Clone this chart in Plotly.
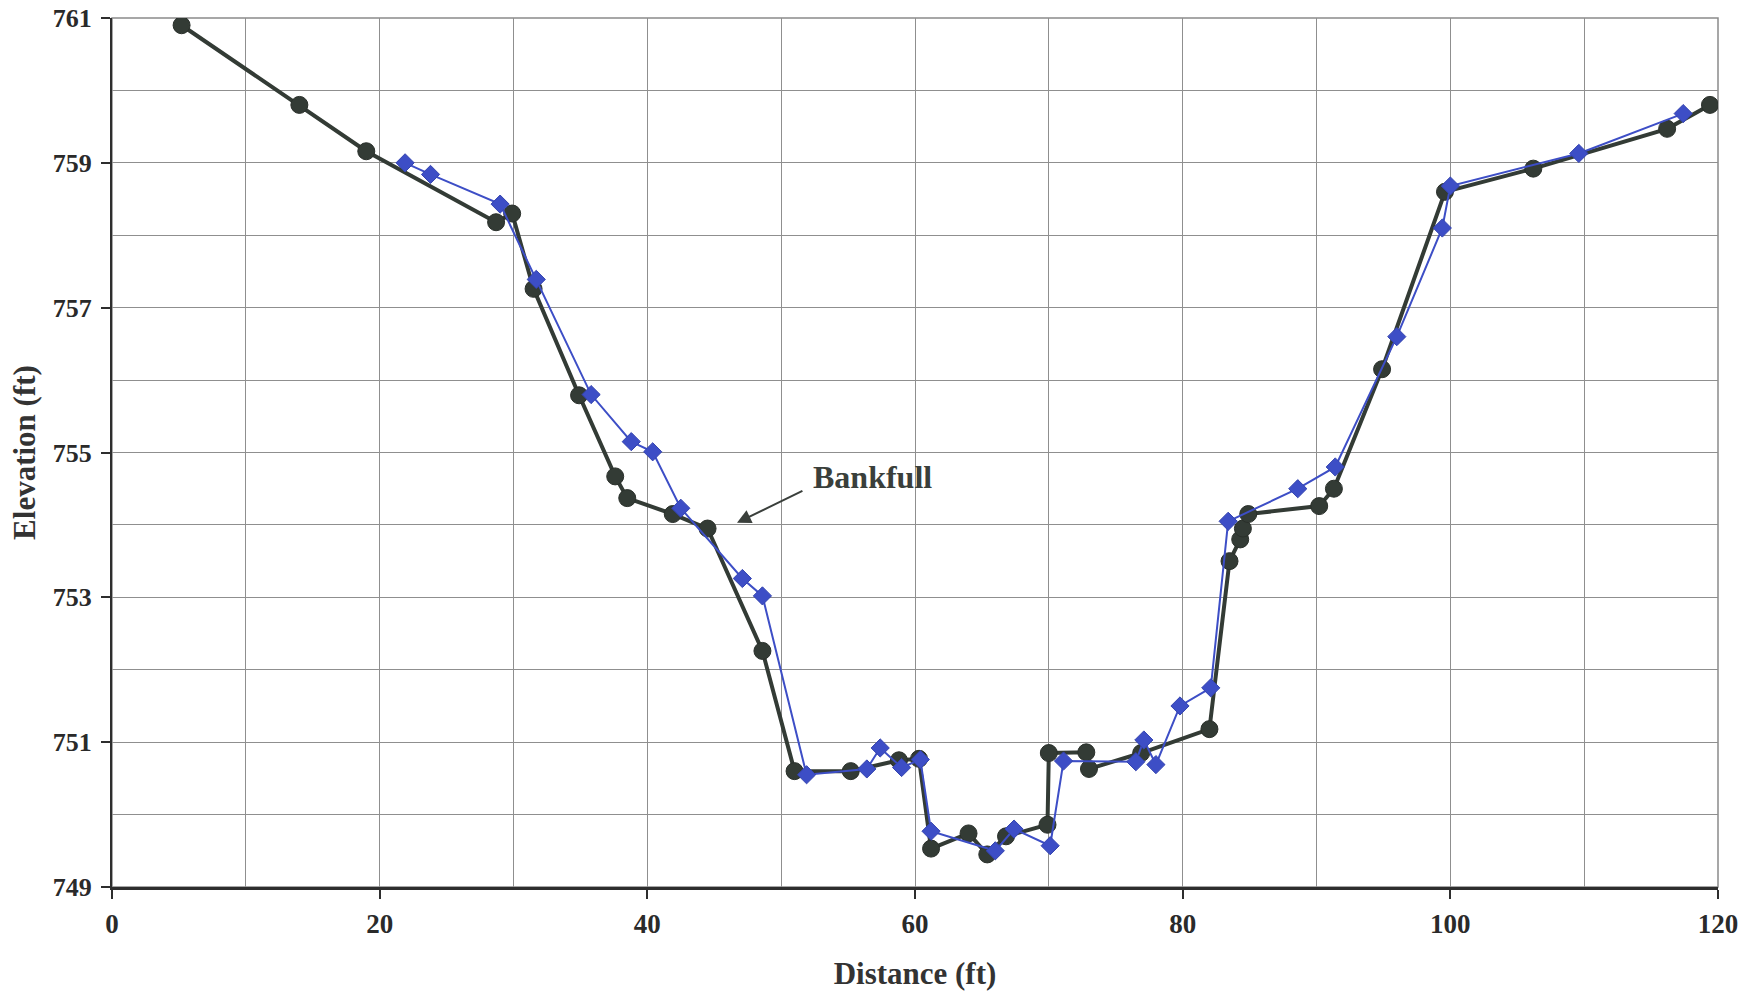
import plotly.graph_objects as go

# Surveyed cross-section profile (thick dark series)
profile_a_dist = [5.2, 14.0, 19.0, 28.7, 29.9, 31.5, 34.9, 37.6, 38.5, 41.9, 44.5,
                  48.6, 51.0, 55.2, 58.8, 60.3, 61.2, 64.0, 65.4, 66.8, 69.9, 70.0,
                  72.8, 73.0, 76.9, 82.0, 83.5, 84.3, 84.5, 84.9, 90.2, 91.3, 94.9,
                  99.6, 106.2, 116.2, 119.4]
profile_a_elev = [760.90, 759.80, 759.16, 758.18, 758.30, 757.26, 755.79, 754.67, 754.37,
                  754.15, 753.95, 752.26, 750.60, 750.60, 750.75, 750.77, 749.53, 749.74,
                  749.45, 749.70, 749.86, 750.85, 750.86, 750.63, 750.85, 751.18, 753.50,
                  753.80, 753.95, 754.15, 754.26, 754.50, 756.15, 758.60, 758.92, 759.47,
                  759.80]

# Second survey of the same cross-section (thin blue series)
profile_b_dist = [21.9, 23.8, 29.0, 31.7, 35.8, 38.8, 40.4, 42.5, 47.1, 48.6, 51.9,
                  56.4, 57.4, 59.0, 60.4, 61.2, 66.0, 67.4, 70.1, 71.1, 76.5, 77.1,
                  78.0, 79.8, 82.1, 83.4, 88.6, 91.4, 96.0, 99.4, 100.0, 109.6, 117.4]
profile_b_elev = [759.00, 758.84, 758.43, 757.39, 755.80, 755.15, 755.01, 754.23, 753.26,
                  753.02, 750.55, 750.63, 750.92, 750.65, 750.76, 749.77, 749.50, 749.80,
                  749.57, 750.74, 750.73, 751.03, 750.69, 751.50, 751.75, 754.05, 754.50,
                  754.80, 756.60, 758.10, 758.68, 759.13, 759.68]

x_tick_vals = [0, 20, 40, 60, 80, 100, 120]
y_tick_vals = [749, 751, 753, 755, 757, 759, 761]

SERIF = "Liberation Serif"
DARK = "#333b35"
BLUE = "#3d4ec6"
GRID = "#8f8f8f"

fig = go.Figure()

fig.add_trace(go.Scatter(
    x=profile_a_dist, y=profile_a_elev, mode="lines+markers",
    line=dict(color=DARK, width=4),
    marker=dict(symbol="circle", size=17, color=DARK, line=dict(color="#2a302b", width=1)),
    showlegend=False,
))

fig.add_trace(go.Scatter(
    x=profile_b_dist, y=profile_b_elev, mode="lines+markers",
    line=dict(color=BLUE, width=2),
    marker=dict(symbol="diamond", size=14, color=BLUE, line=dict(color="#3444b0", width=1)),
    showlegend=False,
))

# Bankfull label and pointer
fig.add_annotation(
    x=46.7, y=754.03, ax=51.7, ay=754.48, xref="x", yref="y", axref="x", ayref="y",
    text="", showarrow=True, arrowhead=2, arrowsize=1.4, arrowwidth=2, arrowcolor="#3a3f3b",
)
fig.add_annotation(
    x=56.8, y=754.66, xref="x", yref="y", text="Bankfull", showarrow=False,
    xanchor="center", yanchor="middle",
    font=dict(family=SERIF, size=32, color="#3a3f3b", weight="bold"),
)

# Plot-area frame (top and right edges in grey)
fig.add_shape(type="rect", xref="paper", yref="paper", x0=0, x1=1, y0=0, y1=1,
              line=dict(color="#8a8a8a", width=1.5), layer="below")

fig.update_layout(
    width=1753, height=997,
    margin=dict(l=112, r=35, t=18, b=110),
    paper_bgcolor="white", plot_bgcolor="white",
    xaxis=dict(
        range=[0, 120], tickmode="array", tickvals=x_tick_vals,
        ticktext=[str(v) for v in x_tick_vals],
        automargin=False,
        showgrid=True, gridcolor=GRID, gridwidth=1,
        minor=dict(dtick=10, showgrid=True, gridcolor=GRID, gridwidth=1, ticks=""),
        showline=True, linecolor="#2e2e2e", linewidth=2.5,
        ticks="outside", ticklen=9, tickcolor="#2e2e2e", tickwidth=1.5,
        ticklabelstandoff=2,
        tickfont=dict(family=SERIF, size=27, color="#2a2a2a", weight="bold"),
        zeroline=False,
        title=dict(text="Distance (ft)", standoff=25,
                   font=dict(family=SERIF, size=31, color="#333", weight="bold")),
    ),
    yaxis=dict(
        range=[749, 761], tickmode="array", tickvals=y_tick_vals,
        ticktext=[str(v) for v in y_tick_vals],
        automargin=False,
        showgrid=True, gridcolor=GRID, gridwidth=1,
        minor=dict(dtick=1, showgrid=True, gridcolor=GRID, gridwidth=1, ticks=""),
        showline=True, linecolor="#2e2e2e", linewidth=2,
        ticks="outside", ticklen=9, tickcolor="#2e2e2e", tickwidth=1.5,
        ticklabelstandoff=4,
        tickfont=dict(family=SERIF, size=26, color="#2a2a2a", weight="bold"),
        zeroline=False,
        title=dict(text="Elevation (ft)", standoff=8,
                   font=dict(family=SERIF, size=31, color="#333", weight="bold")),
    ),
)

fig.write_html("out.html")
